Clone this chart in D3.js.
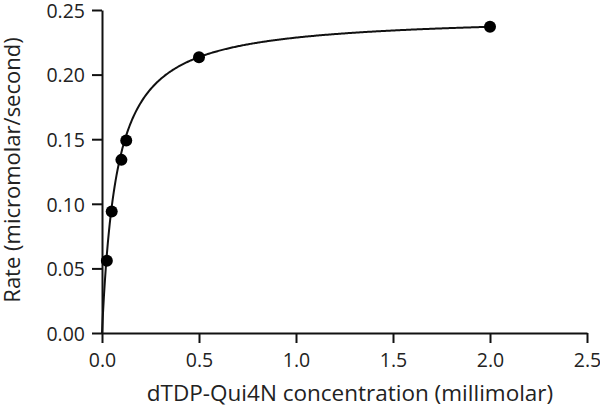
<!DOCTYPE html>
<html><head><meta charset="utf-8">
<script src="https://cdn.jsdelivr.net/npm/d3@7"></script>
<style>body{margin:0;background:#fff}svg{display:block}text{font-family:"Open Sans",sans-serif;fill:#222}</style>
</head><body>
<script>
const concentration = [0.025, 0.05, 0.1, 0.125, 0.5, 2.0];
const rate = [0.056, 0.094, 0.134, 0.149, 0.2135, 0.237];
const xTicks = [0, 0.5, 1.0, 1.5, 2.0, 2.5];
const yTicks = [0, 0.05, 0.10, 0.15, 0.20, 0.25];
// Michaelis-Menten fit parameters
const Vmax = 0.246;
const Km = 0.076;
const xLabel = "dTDP-Qui4N concentration (millimolar)";
const yLabel = "Rate (micromolar/second)";

const W = 600, H = 414;
const svg = d3.select("body").append("svg").attr("width", W).attr("height", H);
const x = d3.scaleLinear().domain([0, 2.5]).range([102, 587]);
const y = d3.scaleLinear().domain([0, 0.25]).range([333, 10]);

const xAxis = svg.append("g").attr("transform", `translate(0,${y(0)})`)
  .call(d3.axisBottom(x).tickValues(xTicks).tickFormat(d3.format(".1f")).tickSize(10).tickSizeOuter(0));
const yAxis = svg.append("g").attr("transform", `translate(${x(0)},0)`)
  .call(d3.axisLeft(y).tickValues(yTicks).tickFormat(d3.format(".2f")).tickSize(10).tickSizeOuter(0));
[xAxis, yAxis].forEach(g => {
  g.selectAll("path.domain").attr("stroke", "#111").attr("stroke-width", 2);
  g.selectAll(".tick line").attr("stroke", "#111").attr("stroke-width", 2);
  g.selectAll(".tick text").style("font-size", "19.5px").attr("fill", "#222");
});
xAxis.selectAll(".tick text").attr("dy", "0").attr("y", 34);
yAxis.selectAll(".tick text").attr("x", -17).attr("y", 1);

// fitted curve
const fitX = d3.range(0, 401).map(i => i * 2.0 / 400);
const line = d3.line().x(d => x(d)).y(d => y(Vmax * d / (Km + d)));
svg.append("path").datum(fitX).attr("d", line).attr("fill", "none")
  .attr("stroke", "#111").attr("stroke-width", 2);

svg.append("g").selectAll("circle").data(concentration).join("circle")
  .attr("cx", d => x(d)).attr("cy", (d, i) => y(rate[i])).attr("r", 6).attr("fill", "#000");

svg.append("text").attr("x", 350).attr("y", 401).attr("text-anchor", "middle")
  .style("font-size", "22.5px").text(xLabel);
svg.append("text").attr("transform", "translate(20,170) rotate(-90)").attr("text-anchor", "middle")
  .style("font-size", "22px").text(yLabel);
</script>
</body></html>
